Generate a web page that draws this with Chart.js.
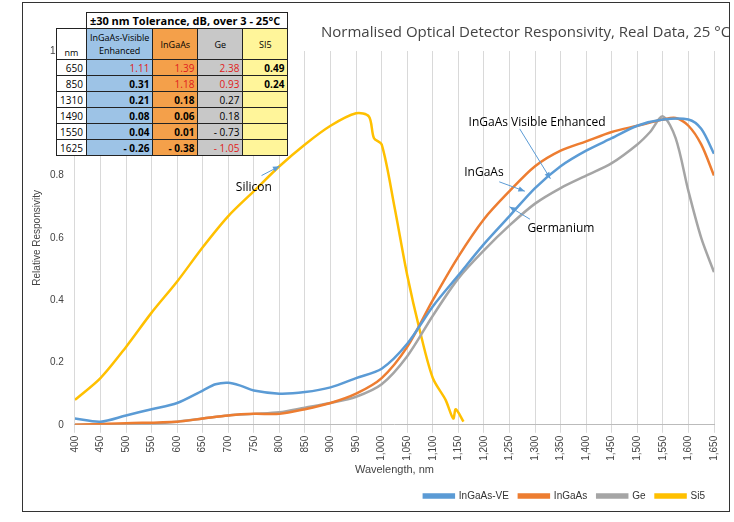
<!DOCTYPE html>
<html><head><meta charset="utf-8">
<script src="https://cdn.jsdelivr.net/npm/chart.js@4/dist/chart.umd.min.js"></script>
<style>
body{margin:0;background:#fff;font-family:"Open Sans",Calibri,sans-serif}
#wrap{position:absolute;left:22px;top:2px;width:706px;height:508px;border:1px solid #333}
#tbl{position:absolute;left:56px;top:12px;border-collapse:collapse;font-size:10px;background:#fff}
#tbl td{border:1px solid #222;padding:0 3px;height:15px;text-align:right}
#tbl .h{text-align:center;font-size:9px}
.b{background:#9dc3e6}.o{background:#f4a04a}.g{background:#c8c8c8}.y{background:#fff59a}
.r{color:#e02020}.k{font-weight:bold}
</style></head><body>
<div id="wrap"><canvas id="c" width="706" height="508"></canvas></div>
<table id="tbl"></table>
<script>
const wavelengthsVE = [400,450,500,550,600,650,675,700,725,750,800,850,900,950,1000,1050,1100,1150,1200,1250,1300,1350,1400,1450,1500,1550,1600,1625,1650];
const ingaasVE = [0.02,0.01,0.03,0.05,0.07,0.11,0.13,0.135,0.125,0.11,0.1,0.105,0.12,0.15,0.18,0.26,0.38,0.48,0.58,0.67,0.76,0.83,0.88,0.92,0.96,0.98,0.98,0.95,0.87];
const wavelengths = [400,500,600,650,700,750,800,850,900,950,1000,1050,1100,1150,1200,1250,1300,1350,1400,1450,1500,1525,1550,1575,1600,1625,1650];
const ingaas = [0,0.005,0.01,0.02,0.03,0.035,0.035,0.05,0.07,0.1,0.15,0.25,0.4,0.54,0.66,0.75,0.83,0.88,0.91,0.94,0.96,0.97,0.98,0.985,0.96,0.9,0.8];
const ge = [0,0,0.01,0.02,0.03,0.035,0.04,0.055,0.07,0.09,0.13,0.22,0.35,0.47,0.56,0.64,0.71,0.76,0.8,0.84,0.9,0.94,0.99,0.92,0.75,0.6,0.49];
const wavelengthsSi = [400,450,500,550,600,650,700,750,800,850,900,950,975,985,1000,1025,1050,1075,1100,1125,1140,1145,1160];
const si = [0.08,0.15,0.25,0.36,0.46,0.57,0.67,0.75,0.83,0.9,0.96,1.0,0.99,0.92,0.9,0.7,0.48,0.3,0.15,0.08,0.02,0.05,0.01];
const tableRows = ['650','850','1310','1490','1550','1625'];
const tolVE = ['1.11','0.31','0.21','0.08','0.04','- 0.26'];
const tolIn = ['1.39','1.18','0.18','0.06','0.01','- 0.38'];
const tolGe = ['2.38','0.93','0.27','0.18','- 0.73','- 1.05'];
const tolSi = ['0.49','0.24','','','',''];
const redVE=[1,0,0,0,0,0], redIn=[1,1,0,0,0,0], redGe=[1,1,0,0,0,1];

let h='<tr><td style="border:none"></td><td colspan="4" class="k" style="text-align:left;font-size:11px">±30 nm Tolerance, dB, over 3 - 25°C</td></tr>';
h+='<tr><td class="h" style="vertical-align:bottom;height:30px">nm</td><td class="h b">InGaAs-Visible<br>Enhanced</td><td class="h o" style="width:38px">InGaAs</td><td class="h g" style="width:38px">Ge</td><td class="h y" style="width:38px">SI5</td></tr>';
tableRows.forEach((r,i)=>{
  h+=`<tr><td>${r}</td><td class="b ${redVE[i]?'r':'k'}">${tolVE[i]}</td><td class="o ${redIn[i]?'r':'k'}">${tolIn[i]}</td><td class="g ${redGe[i]?'r':''}">${tolGe[i]}</td><td class="y k">${tolSi[i]}</td></tr>`;
});
document.getElementById('tbl').innerHTML=h;

const pts=(xs,ys)=>xs.map((x,i)=>({x,y:ys[i]}));
const notes=[
  {t:'Silicon',tx:750,ty:0.76,ax:765,ay:0.8,bx:800,by:0.83,a:'center'},
  {t:'InGaAs Visible Enhanced',tx:1170,ty:0.97,ax:1270,ay:0.95,bx:1330,by:0.79,a:'left'},
  {t:'InGaAs',tx:1200,ty:0.81,ax:1230,ay:0.78,bx:1280,by:0.75,a:'center'},
  {t:'Germanium',tx:1285,ty:0.63,ax:1290,ay:0.66,bx:1250,by:0.7,a:'left'}
];
const notePlugin={id:'notes',afterDatasetsDraw(c){
  const {ctx,scales:{x,y}}=c;ctx.save();ctx.font='12px "Open Sans"';ctx.fillStyle='#000';ctx.strokeStyle='#5b9bd5';ctx.lineWidth=1;
  notes.forEach(n=>{
    ctx.textAlign=n.a;ctx.textBaseline='middle';ctx.fillText(n.t,x.getPixelForValue(n.tx),y.getPixelForValue(n.ty));
    const x1=x.getPixelForValue(n.ax),y1=y.getPixelForValue(n.ay),x2=x.getPixelForValue(n.bx),y2=y.getPixelForValue(n.by);
    ctx.beginPath();ctx.moveTo(x1,y1);ctx.lineTo(x2,y2);ctx.stroke();
    const an=Math.atan2(y2-y1,x2-x1);ctx.fillStyle='#5b9bd5';ctx.beginPath();ctx.moveTo(x2,y2);
    ctx.lineTo(x2-7*Math.cos(an-0.4),y2-7*Math.sin(an-0.4));ctx.lineTo(x2-7*Math.cos(an+0.4),y2-7*Math.sin(an+0.4));ctx.fill();ctx.fillStyle='#000';
  });
  ctx.font='15px "Open Sans"';ctx.fillStyle='#444';ctx.textAlign='left';ctx.textBaseline='middle';ctx.fillText('Normalised Optical Detector Responsivity, Real Data, 25 °C',298,30);
  ctx.restore();}};
const ds=(label,data,color)=>({label,data,borderColor:color,backgroundColor:color,borderWidth:2.5,pointRadius:0,tension:0.3});
new Chart(document.getElementById('c'),{type:'line',
  data:{datasets:[ds('InGaAs-VE',pts(wavelengthsVE,ingaasVE),'#5b9bd5'),ds('InGaAs',pts(wavelengths,ingaas),'#ed7d31'),ds('Ge',pts(wavelengths,ge),'#a5a5a5'),ds('Si5',pts(wavelengthsSi,si),'#ffc000')]},
  options:{animation:false,responsive:false,devicePixelRatio:1,
    layout:{padding:{top:48,right:14,left:4}},
    plugins:{legend:{position:'bottom',align:'end',labels:{boxWidth:30,boxHeight:3,font:{size:10},color:'#333'}}},
    scales:{
      x:{type:'linear',min:400,max:1650,ticks:{stepSize:50,minRotation:90,maxRotation:90,font:{size:10},color:'#444'},grid:{color:'#d9d9d9'},border:{color:'#bbb'},
        title:{display:true,text:'Wavelength, nm',font:{size:11},color:'#444',padding:{top:0}}},
      y:{min:0,max:1.2,ticks:{stepSize:0.2,font:{size:10},color:'#444',callback:v=>+v.toFixed(1)},grid:{display:false},border:{display:false},
        title:{display:true,text:'Relative Responsivity',font:{size:10},color:'#444'}}
    }},
  plugins:[notePlugin]});
</script>
</body></html>
